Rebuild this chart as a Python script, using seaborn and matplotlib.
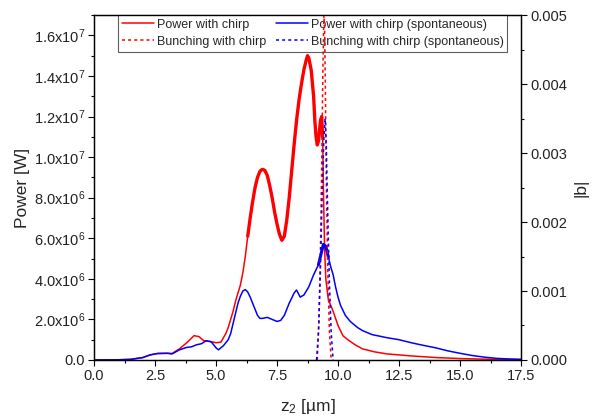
import matplotlib
matplotlib.use("Agg")
import matplotlib.pyplot as plt
import matplotlib.ticker as mticker
import numpy as np
import pandas as pd
import seaborn as sns
from matplotlib.lines import Line2D

# ---- data ----
z_red = [0, 1.0, 1.5, 2.0, 2.3, 2.6, 3.0, 3.2, 3.5, 3.8, 4.1, 4.3, 4.5, 4.8, 5.0, 5.2, 5.4,
         5.5, 5.6, 5.7, 5.8, 5.9, 6.0, 6.1, 6.2, 6.3, 6.4, 6.5, 6.6, 6.7, 6.8, 6.9, 7.0,
         7.1, 7.2, 7.3, 7.4, 7.5, 7.6, 7.7, 7.8, 7.9, 8.0, 8.1, 8.2, 8.3, 8.4, 8.5, 8.6,
         8.7, 8.75, 8.8, 8.9, 9.0, 9.05, 9.1, 9.15, 9.2, 9.28, 9.33, 9.37, 9.4, 9.45, 9.5,
         9.6, 9.7, 9.8, 10.0, 10.2, 10.4, 10.7, 11.0, 11.5, 12.0, 13.0, 14.0, 15.0, 16.0,
         17.5]
p_red = [0, 0.01, 0.03, 0.12, 0.25, 0.32, 0.33, 0.32, 0.55, 0.85, 1.2, 1.15, 0.95, 0.9, 0.85,
         0.88, 1.3, 1.6, 2.0, 2.4, 2.9, 3.3, 3.7, 4.3, 5.1, 6.1, 7.0, 7.8, 8.5, 9.0, 9.3,
         9.4, 9.35, 9.1, 8.6, 8.0, 7.3, 6.7, 6.2, 5.9, 6.1, 6.9, 8.0, 9.3, 10.6, 11.8,
         12.8, 13.6, 14.3, 14.8, 15.0, 14.9, 14.3, 13.0, 11.8, 11.0, 10.6, 10.8, 11.8,
         12.0, 11.0, 8.5, 5.5, 4.0, 3.0, 2.7, 2.4, 1.7, 1.2, 1.0, 0.75, 0.55, 0.4, 0.3,
         0.2, 0.12, 0.07, 0.04, 0.02]

z_blue = [0, 1.0, 1.5, 2.0, 2.3, 2.6, 3.0, 3.2, 3.5, 3.8, 4.0, 4.2, 4.4, 4.6, 4.8, 5.0, 5.1,
          5.3, 5.5, 5.6, 5.7, 5.8, 5.9, 6.0, 6.1, 6.2, 6.3, 6.4, 6.5, 6.6, 6.7, 6.8, 6.9,
          7.1, 7.3, 7.5, 7.65, 7.8, 8.0, 8.2, 8.3, 8.45, 8.6, 8.8, 9.0, 9.2, 9.3, 9.4,
          9.5, 9.6, 9.7, 9.8, 9.9, 10.0, 10.1, 10.3, 10.5, 10.8, 11.0, 11.4, 12.0, 12.5,
          13.0, 13.5, 14.0, 14.5, 15.0, 15.5, 16.0, 16.5, 17.0, 17.5]
p_blue = [0, 0.01, 0.03, 0.12, 0.25, 0.32, 0.33, 0.3, 0.5, 0.62, 0.65, 0.75, 0.8, 0.95, 0.9,
          0.6, 0.5, 0.7, 1.0, 1.3, 1.8, 2.3, 2.8, 3.15, 3.4, 3.47, 3.35, 3.1, 2.8, 2.5,
          2.2, 2.05, 2.05, 2.1, 2.0, 1.9, 1.95, 2.2, 2.8, 3.3, 3.45, 3.1, 3.2, 3.6, 4.2,
          4.7, 5.2, 5.7, 5.6, 5.1, 4.6, 4.2, 3.6, 3.1, 2.7, 2.2, 1.9, 1.6, 1.45, 1.25,
          1.1, 1.0, 0.85, 0.72, 0.6, 0.45, 0.33, 0.22, 0.14, 0.08, 0.05, 0.03]

z_bred = [9.15, 9.22, 9.28, 9.33, 9.38, 9.42, 9.45, 9.48, 9.52, 9.58, 9.65, 9.72]
b_red = [0.0, 0.0006, 0.0016, 0.0028, 0.0042, 0.0050, 0.0048, 0.0040, 0.0026, 0.0013,
         0.0004, 0.0]

z_bblue = [9.12, 9.2, 9.28, 9.35, 9.42, 9.47, 9.52, 9.58, 9.65, 9.72, 9.8]
b_blue = [0.0, 0.0004, 0.0013, 0.0024, 0.0032, 0.0035, 0.0031, 0.0021, 0.0011, 0.0004, 0.0]

x_ticks = [0.0, 2.5, 5.0, 7.5, 10.0, 12.5, 15.0, 17.5]
y_ticks = [0, 2e6, 4e6, 6e6, 8e6, 1e7, 1.2e7, 1.4e7, 1.6e7]
y_ticklabels = ["0.0", r"2.0x10$^{6}$", r"4.0x10$^{6}$", r"6.0x10$^{6}$", r"8.0x10$^{6}$",
                r"1.0x10$^{7}$", r"1.2x10$^{7}$", r"1.4x10$^{7}$", r"1.6x10$^{7}$"]
b_ticks = [0.0, 0.001, 0.002, 0.003, 0.004, 0.005]
b_ticklabels = ["0.000", "0.001", "0.002", "0.003", "0.004", "0.005"]

labels = ["Power with chirp", "Power with chirp (spontaneous)",
          "Bunching with chirp", "Bunching with chirp (spontaneous)"]

# ---- plot ----
sns.set_style("ticks")
plt.rcParams['font.family'] = ['Liberation Sans', 'DejaVu Sans']
plt.rcParams['mathtext.fontset'] = 'custom'
plt.rcParams['mathtext.rm'] = 'Liberation Sans'
plt.rcParams['mathtext.it'] = 'Liberation Sans:italic'

fig = plt.figure(figsize=(5.97, 4.2), dpi=100)
ax = fig.add_axes([0.1575, 0.1429, 0.7152, 0.8211])
ax2 = ax.twinx()

RED, BLUE = "#ff0000", "#0000ff"
df_r = pd.DataFrame({"z": z_red, "P": np.array(p_red) * 1e6})
df_b = pd.DataFrame({"z": z_blue, "P": np.array(p_blue) * 1e6})
sns.lineplot(data=df_r, x="z", y="P", ax=ax, color=RED, lw=1.1, legend=False, sort=False)
sns.lineplot(data=df_b, x="z", y="P", ax=ax, color=BLUE, lw=1.1, legend=False, sort=False)
# thick (fast-oscillation) bands
mr = (df_r.z >= 6.3) & (df_r.z <= 9.37)
sns.lineplot(data=df_r[mr], x="z", y="P", ax=ax, color=RED, lw=2.4, legend=False, sort=False)
mb = (df_b.z >= 9.1) & (df_b.z <= 9.6)
sns.lineplot(data=df_b[mb], x="z", y="P", ax=ax, color=BLUE, lw=2.2, legend=False, sort=False)

df_br = pd.DataFrame({"z": z_bred, "b": b_red})
df_bb = pd.DataFrame({"z": z_bblue, "b": b_blue})
sns.lineplot(data=df_br, x="z", y="b", ax=ax2, color=RED, lw=1.1, ls=(0, (2, 2)),
             legend=False, sort=False)
sns.lineplot(data=df_bb, x="z", y="b", ax=ax2, color=BLUE, lw=1.1, ls=(0, (2, 2)),
             legend=False, sort=False)

ax.set_xlim(0, 17.5)
ax.set_ylim(0, 1.7e7)
ax2.set_ylim(0, 0.005)

ax.set_xticks(x_ticks)
ax.set_xticklabels([f"{v:.1f}" for v in x_ticks])
ax.xaxis.set_minor_locator(mticker.MultipleLocator(1.25))
ax.set_yticks(y_ticks)
ax.set_yticklabels(y_ticklabels)
ax.yaxis.set_minor_locator(mticker.MultipleLocator(1e6))
ax2.set_yticks(b_ticks)
ax2.set_yticklabels(b_ticklabels)
ax2.yaxis.set_minor_locator(mticker.MultipleLocator(0.0005))

for a in (ax, ax2):
    a.tick_params(which="major", direction="out", length=4, width=0.8, labelsize=10.5,
                  color="black", labelcolor="#222222", pad=2.5)
    a.tick_params(which="minor", direction="out", length=2.5, width=0.8, color="black")
    for s in a.spines.values():
        s.set_color("black")
        s.set_linewidth(0.9)
ax.tick_params(axis="x", which="both", top=False)

ax.set_xlabel(r"z$_{2}$ [µm]", fontsize=12.5, labelpad=10)
ax.set_ylabel("Power [W]", fontsize=12.5, labelpad=3)
ax2.set_ylabel("|b|", fontsize=12.5, labelpad=5)

handles = [Line2D([], [], color=RED, lw=1.1),
           Line2D([], [], color=BLUE, lw=1.1),
           Line2D([], [], color=RED, lw=1.1, ls=(0, (2, 2))),
           Line2D([], [], color=BLUE, lw=1.1, ls=(0, (2, 2)))]
order = [0, 2, 1, 3]
leg = ax.legend([handles[i] for i in order], [labels[i] for i in order], ncol=2,
                loc="upper center", bbox_to_anchor=(0.512, 1.0), borderaxespad=0.0,
                fontsize=9, frameon=True, fancybox=False, handlelength=2.6,
                handletextpad=0.2, columnspacing=0.8, labelspacing=0.4,
                borderpad=0.3)
leg.get_frame().set_edgecolor("#333333")
leg.get_frame().set_linewidth(0.8)
leg.set_zorder(10)

fig.savefig("out.png", dpi=100)
